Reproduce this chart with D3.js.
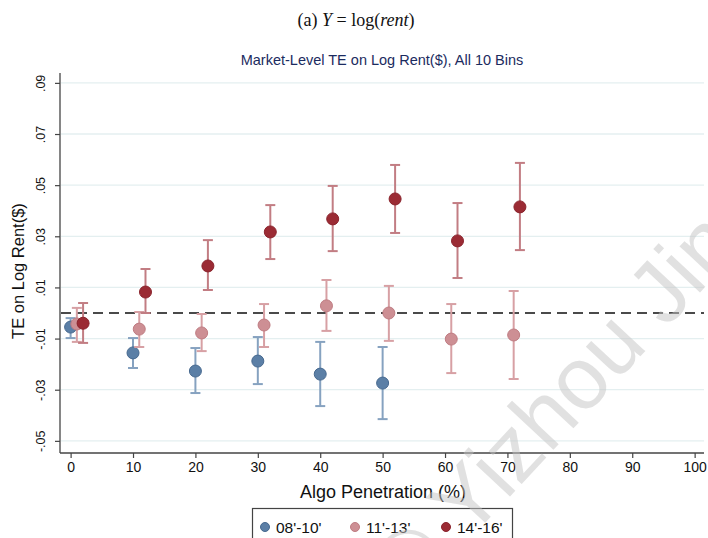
<!DOCTYPE html>
<html>
<head>
<meta charset="utf-8">
<script src="https://cdn.jsdelivr.net/npm/d3@7"></script>
<style>
  body { margin: 0; background: #fff; }
  svg { display: block; font-family: "Liberation Sans", Arial, sans-serif; }
</style>
</head>
<body>
<div id="chart"></div>
<script>
// Data
const periods = ["08'-10'", "11'-13'", "14'-16'"];
const xOffsets = [0, 1, 2];

const blueX = [0, 10, 20, 30, 40, 50];
const blueEst = [-0.0055, -0.0156, -0.0227, -0.0188, -0.0239, -0.0274];
const blueLo = [-0.0098, -0.0215, -0.0313, -0.0278, -0.0364, -0.0415];
const blueHi = [-0.0020, -0.0098, -0.0137, -0.0094, -0.0113, -0.0133];

const pinkX = [0, 10, 20, 30, 40, 50, 60, 70];
const pinkEst = [-0.0043, -0.0063, -0.0078, -0.0047, 0.0028, 0.0000, -0.0102, -0.0086];
const pinkLo = [-0.0113, -0.0133, -0.0149, -0.0133, -0.0070, -0.0109, -0.0235, -0.0258];
const pinkHi = [0.0020, 0.0004, -0.0004, 0.0035, 0.0129, 0.0106, 0.0035, 0.0086];

const redX = [0, 10, 20, 30, 40, 50, 60, 70];
const redEst = [-0.0040, 0.0082, 0.0184, 0.0317, 0.0368, 0.0446, 0.0282, 0.0415];
const redLo = [-0.0117, 0.0000, 0.0090, 0.0211, 0.0242, 0.0313, 0.0137, 0.0246];
const redHi = [0.0039, 0.0172, 0.0285, 0.0422, 0.0497, 0.0579, 0.0430, 0.0587];

const xTicks = [0, 10, 20, 30, 40, 50, 60, 70, 80, 90, 100];
const yTicks = [-0.05, -0.03, -0.01, 0.01, 0.03, 0.05, 0.07, 0.09];
const yTickLabels = ["-.05", "-.03", "-.01", ".01", ".03", ".05", ".07", ".09"];

const styles = [
  { fill: "#5b7fa6", stroke: "#47698f", ci: "#86a2c0" },
  { fill: "#cd8f94", stroke: "#bf7c82", ci: "#d7a0a4" },
  { fill: "#9b2b34", stroke: "#8a232c", ci: "#c27d83" }
];

const series = [
  { x: blueX, est: blueEst, lo: blueLo, hi: blueHi },
  { x: pinkX, est: pinkEst, lo: pinkLo, hi: pinkHi },
  { x: redX, est: redEst, lo: redLo, hi: redHi }
].map((s, i) => s.x.map((x, j) => ({
  x: x + xOffsets[i], est: s.est[j], lo: s.lo[j], hi: s.hi[j], k: i
})));

const W = 708, H = 538;
const plot = { left: 60, right: 704, top: 73, bottom: 453 };

const svg = d3.select("#chart").append("svg")
  .attr("width", W).attr("height", H);

const x = d3.scaleLinear().domain([-1.7, 101.5]).range([plot.left, plot.right]);
const y = d3.scaleLinear().domain([-0.05475, 0.09386]).range([plot.bottom, plot.top]);

// caption
const cap = svg.append("text")
  .attr("x", 356).attr("y", 26)
  .attr("text-anchor", "middle")
  .attr("font-family", "'Liberation Serif', 'DejaVu Serif', serif")
  .attr("font-size", 18)
  .attr("fill", "#111");
cap.append("tspan").text("(a) ");
cap.append("tspan").attr("font-style", "italic").text("Y");
cap.append("tspan").text(" = log(");
cap.append("tspan").attr("font-style", "italic").text("rent");
cap.append("tspan").text(")");

// title
svg.append("text")
  .attr("x", 382).attr("y", 65)
  .attr("text-anchor", "middle")
  .attr("font-size", 14.5)
  .attr("fill", "#1b2b60")
  .text("Market-Level TE on Log Rent($), All 10 Bins");

// gridlines
svg.append("g").selectAll("line")
  .data(yTicks)
  .join("line")
  .attr("x1", plot.left + 1).attr("x2", plot.right)
  .attr("y1", d => y(d)).attr("y2", d => y(d))
  .attr("stroke", "#e4eff0")
  .attr("stroke-width", 1.3);

// y axis
const yAxis = svg.append("g")
  .attr("transform", `translate(${plot.left},0)`)
  .call(d3.axisLeft(y).tickValues(yTicks).tickSize(5)
    .tickFormat((d, i) => yTickLabels[i]));
yAxis.select(".domain").attr("stroke", "#444").attr("stroke-width", 1.3)
  .attr("d", `M0,${plot.top}V${plot.bottom}`);
yAxis.selectAll(".tick line").attr("stroke", "#444").attr("stroke-width", 1.2);
yAxis.selectAll(".tick text")
  .attr("font-size", 12.5).attr("fill", "#111")
  .attr("transform", "rotate(-90)")
  .attr("x", 0).attr("y", -15)
  .attr("dy", "0")
  .attr("text-anchor", "middle");

// x axis
const xAxis = svg.append("g")
  .attr("transform", `translate(0,${plot.bottom})`)
  .call(d3.axisBottom(x).tickValues(xTicks).tickSize(5));
xAxis.select(".domain").attr("stroke", "#444").attr("stroke-width", 1.3)
  .attr("d", `M${plot.left},0H${plot.right}`);
xAxis.selectAll(".tick line").attr("stroke", "#444").attr("stroke-width", 1.2);
xAxis.selectAll(".tick text")
  .attr("font-size", 14).attr("fill", "#111").attr("y", 9);

// axis titles
svg.append("text")
  .attr("transform", `translate(24,${(plot.top + plot.bottom) / 2 + 8}) rotate(-90)`)
  .attr("text-anchor", "middle")
  .attr("font-size", 16.5)
  .attr("fill", "#111")
  .text("TE on Log Rent($)");

svg.append("text")
  .attr("x", 383).attr("y", 498)
  .attr("text-anchor", "middle")
  .attr("font-size", 18)
  .attr("fill", "#111")
  .text("Algo Penetration (%)");

// zero reference line
svg.append("line")
  .attr("x1", plot.left + 1).attr("x2", plot.right)
  .attr("y1", y(0)).attr("y2", y(0))
  .attr("stroke", "#4a4a4a")
  .attr("stroke-width", 2)
  .attr("stroke-dasharray", "10,6");

// error bars + points
const capW = 5;
series.forEach(pts => {
  const g = svg.append("g");
  const st = styles[pts[0].k];
  g.selectAll("line.ci").data(pts).join("line")
    .attr("class", "ci")
    .attr("x1", d => x(d.x)).attr("x2", d => x(d.x))
    .attr("y1", d => y(d.lo)).attr("y2", d => y(d.hi))
    .attr("stroke", st.ci).attr("stroke-width", 2);
  g.selectAll("line.capHi").data(pts).join("line")
    .attr("class", "capHi")
    .attr("x1", d => x(d.x) - capW).attr("x2", d => x(d.x) + capW)
    .attr("y1", d => y(d.hi)).attr("y2", d => y(d.hi))
    .attr("stroke", st.ci).attr("stroke-width", 2);
  g.selectAll("line.capLo").data(pts).join("line")
    .attr("class", "capLo")
    .attr("x1", d => x(d.x) - capW).attr("x2", d => x(d.x) + capW)
    .attr("y1", d => y(d.lo)).attr("y2", d => y(d.lo))
    .attr("stroke", st.ci).attr("stroke-width", 2);
  g.selectAll("circle").data(pts).join("circle")
    .attr("cx", d => x(d.x)).attr("cy", d => y(d.est))
    .attr("r", 6)
    .attr("fill", st.fill)
    .attr("stroke", st.stroke).attr("stroke-width", 1);
});

// legend
const legend = svg.append("g");
legend.append("rect")
  .attr("x", 252.5).attr("y", 508.5)
  .attr("width", 260).attr("height", 40)
  .attr("fill", "#fff")
  .attr("stroke", "#444").attr("stroke-width", 1.2);
const legX = [265, 355, 446];
periods.forEach((p, i) => {
  legend.append("circle")
    .attr("cx", legX[i]).attr("cy", 527).attr("r", 4.5)
    .attr("fill", styles[i].fill).attr("stroke", styles[i].stroke);
  legend.append("text")
    .attr("x", legX[i] + 11).attr("y", 533)
    .attr("font-size", 15.5).attr("fill", "#111")
    .text(p);
});

// watermark
svg.append("text")
  .attr("transform", "translate(553,405) rotate(-47)")
  .attr("text-anchor", "middle")
  .attr("dy", "0.35em")
  .attr("font-size", 88)
  .attr("fill", "#c4c4c4")
  .attr("fill-opacity", 0.5)
  .text("© Yizhou Jin");
</script>
</body>
</html>
